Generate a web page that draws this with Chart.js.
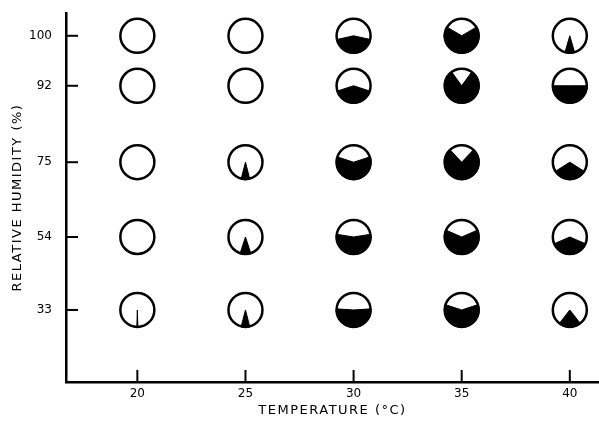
<!DOCTYPE html>
<html><head><meta charset="utf-8">
<script src="https://cdn.jsdelivr.net/npm/chart.js@4/dist/chart.umd.min.js"></script>
<style>html,body{margin:0;padding:0;background:#fff}#wrap{width:599px;height:426px}</style>
</head><body><div id="wrap"><canvas id="c"></canvas></div>
<script>
const temperatures = [20, 25, 30, 35, 40];
const temperatureTickLabels = ['20', '25', '30', '35', '40'];
const humidityLevels = [33, 54, 75, 92, 100];
const humidityTickLabels = ['33', '54', '75', '92', '100'];
// percent of each circle shown black (a sector centred on the bottom), one array per humidity row
const filled33 = [1, 8, 52, 60, 21];
const filled54 = [0, 10, 55, 63, 37];
const filled75 = [0, 8, 60, 76, 32];
const filled92 = [0, 0, 40, 80, 50];
const filled100 = [0, 0, 43, 67, 9];
const filledRows = [filled33, filled54, filled75, filled92, filled100];

// the original humidity axis is not linear: each level sits at this axis position
const rowAxisPos = [0, 0.993, 2.01, 3.05, 3.73];

const points = [];
humidityLevels.forEach((rh, i) => {
  temperatures.forEach((t, j) => {
    points.push({x: t, y: rowAxisPos[i], rh: rh, pct: filledRows[i][j]});
  });
});

const R = 17;

class SpacedLinearScale extends Chart.LinearScale {
  drawTitle() {
    const c = this.ctx;
    c.save();
    c.letterSpacing = '1.5px';
    super.drawTitle();
    c.restore();
  }
}
SpacedLinearScale.id = 'spacedLinear';
SpacedLinearScale.defaults = Chart.LinearScale.defaults;
Chart.register(SpacedLinearScale);

const sectorPlugin = {
  id: 'sectors',
  afterDatasetsDraw(chart) {
    const ctx = chart.ctx;
    const meta = chart.getDatasetMeta(0);
    const data = chart.data.datasets[0].data;
    ctx.save();
    ctx.fillStyle = '#000';
    ctx.strokeStyle = '#000';
    ctx.lineWidth = 1;
    meta.data.forEach((el, k) => {
      const pct = data[k].pct;
      if (!pct) return;
      const half = Math.PI * pct / 100;
      const c = Math.PI / 2;
      ctx.beginPath();
      ctx.moveTo(el.x, el.y);
      ctx.arc(el.x, el.y, R + 0.5, c - half, c + half);
      ctx.closePath();
      ctx.fill();
      ctx.stroke();
    });
    ctx.restore();
  }
};

const tickMarkPlugin = {
  id: 'innerTicks',
  afterDraw(chart) {
    const ctx = chart.ctx;
    const a = chart.chartArea;
    ctx.save();
    ctx.strokeStyle = '#000';
    ctx.lineWidth = 2;
    chart.scales.x.ticks.forEach(t => {
      const px = chart.scales.x.getPixelForValue(t.value);
      ctx.beginPath(); ctx.moveTo(px, a.bottom); ctx.lineTo(px, a.bottom - 12); ctx.stroke();
    });
    chart.scales.y.ticks.forEach(t => {
      const py = chart.scales.y.getPixelForValue(t.value);
      ctx.beginPath(); ctx.moveTo(a.left, py); ctx.lineTo(a.left + 12, py); ctx.stroke();
    });
    ctx.restore();
  }
};

new Chart(document.getElementById('c'), {
  type: 'scatter',
  data: {
    datasets: [{
      data: points,
      pointStyle: 'circle',
      pointRadius: R,
      pointHoverRadius: R,
      pointBackgroundColor: '#fff',
      pointBorderColor: '#000',
      pointBorderWidth: 2.5,
      pointHoverBorderWidth: 2.5
    }]
  },
  plugins: [sectorPlugin, tickMarkPlugin],
  options: {
    responsive: true,
    maintainAspectRatio: false,
    animation: false,
    events: [],
    layout: {autoPadding: false, padding: {top: 13, right: 0, left: 0, bottom: 0}},
    plugins: {legend: {display: false}, tooltip: {enabled: false}},
    scales: {
      x: {
        type: 'spacedLinear',
        min: 16.7,
        max: 41.35,
        afterBuildTicks: s => { s.ticks = temperatures.map(v => ({value: v})); },
        afterFit: s => { s.height = 44; s.paddingLeft = 0; s.paddingRight = 0; },
        grid: {display: false, drawTicks: false},
        border: {display: true, color: '#000', width: 2.5},
        ticks: {
          padding: 5,
          color: '#000',
          font: {family: 'DejaVu Sans', size: 12},
          callback: (v, i) => temperatureTickLabels[i]
        },
        title: {
          display: true,
          text: 'TEMPERATURE (°C)',
          color: '#000',
          font: {family: 'DejaVu Sans', size: 13},
          padding: {top: 0, bottom: 8}
        }
      },
      y: {
        type: 'spacedLinear',
        min: -0.98,
        max: 4.04,
        afterBuildTicks: s => { s.ticks = rowAxisPos.map(v => ({value: v})); },
        afterFit: s => { s.width = 66; s.paddingTop = 0; s.paddingBottom = 0; },
        grid: {display: false, drawTicks: false},
        border: {display: true, color: '#000', width: 2.5},
        ticks: {
          padding: 14,
          color: '#000',
          font: {family: 'DejaVu Sans', size: 12},
          callback: (v, i) => humidityTickLabels[i]
        },
        title: {
          display: true,
          text: 'RELATIVE HUMIDITY (%)',
          color: '#000',
          font: {family: 'DejaVu Sans', size: 13},
          padding: {top: 10, bottom: 0}
        }
      }
    }
  }
});
</script>
</body></html>
